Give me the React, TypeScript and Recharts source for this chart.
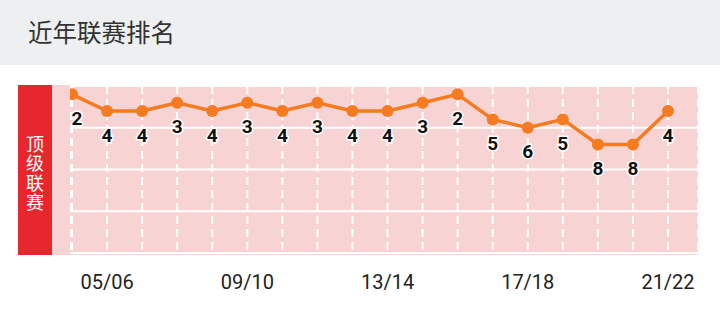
import React from 'react';
import { LineChart, Line, XAxis, YAxis, CartesianGrid, LabelList } from 'recharts';

const seasons = ['04/05','05/06','06/07','07/08','08/09','09/10','10/11','11/12','12/13','13/14','14/15','15/16','16/17','17/18','18/19','19/20','20/21','21/22'];
const ranks = [2,4,4,3,4,3,4,3,4,4,3,2,5,6,5,8,8,4];
const tickLabels = ['05/06','09/10','13/14','17/18','21/22'];
const rankTicks = [6,11,16,21];
const rankDomain = [1,21];
const title = '近年联赛排名';
const leagueLabel = '顶级联赛';

const data = seasons.map((s, i) => ({ season: s, rank: ranks[i] }));

const ORANGE = '#f47b20';
const PINK = '#f8d3d3';
const RED = '#e8262e';

const SeasonTick = (props: any) => {
  const { x, y, payload } = props;
  if (!tickLabels.includes(payload.value)) return null;
  return (
    <text x={x} y={y} dy={28} textAnchor="middle" fontFamily="Roboto, sans-serif" fontSize={20} fill="#222">
      {payload.value}
    </text>
  );
};

const RankLabel = (props: any) => {
  const { x, y, value, index } = props;
  return (
    <text
      x={index === 0 ? x + 5 : x}
      y={y + 24}
      textAnchor="middle"
      dominantBaseline="central"
      fontFamily="Roboto, Arial, sans-serif"
      fontWeight={700}
      fontSize={19}
      fill="#111"
      stroke="#fff"
      strokeWidth={3}
      paintOrder="stroke"
    >
      {value}
    </text>
  );
};

export default function App() {
  return (
    <div style={{ position: 'fixed', left: 0, top: 0, width: 720, height: 314, background: '#fff', overflow: 'hidden' }}>
      <div
        style={{
          position: 'absolute', left: 0, top: 0, width: 720, height: 65, background: '#eeeff1',
          fontFamily: '"Noto Sans CJK SC", sans-serif', fontSize: 24.5, color: '#333',
          lineHeight: '63px', paddingLeft: 28, boxSizing: 'border-box',
        }}
      >
        {title}
      </div>
      <div style={{ position: 'absolute', left: 52, top: 85, width: 646, height: 170, background: PINK }} />
      <div style={{ position: 'absolute', left: 0, top: 0 }}>
        <LineChart width={720} height={314} data={data} margin={{ top: 86, right: 22, bottom: 31, left: 70 }}>
          <CartesianGrid stroke="#fff" strokeWidth={2} vertical={false} />
          <CartesianGrid stroke="#fff" strokeWidth={2} horizontal={false} strokeDasharray="8 5" />
          <XAxis
            dataKey="season"
            interval={0}
            height={30}
            axisLine={false}
            tickLine={false}
            tick={<SeasonTick />}
            padding={{ left: 2, right: 30 }}
          />
          <YAxis hide reversed domain={rankDomain} ticks={rankTicks} type="number" />
          <Line
            dataKey="rank"
            stroke={ORANGE}
            strokeWidth={3.5}
            dot={{ r: 6, fill: ORANGE, stroke: ORANGE, strokeWidth: 0 }}
            isAnimationActive={false}
          >
            <LabelList dataKey="rank" content={<RankLabel />} />
          </Line>
        </LineChart>
      </div>
      <div style={{ position: 'absolute', left: 52, top: 85, width: 18, height: 170, background: PINK }} />
      <div
        style={{
          position: 'absolute', left: 18, top: 85, width: 34, height: 170, background: RED,
          display: 'flex', alignItems: 'center', justifyContent: 'center',
          paddingTop: 8, boxSizing: 'border-box',
        }}
      >
        <span
          style={{
            writingMode: 'vertical-rl', fontFamily: '"Noto Sans CJK SC", sans-serif', fontSize: 18,
            letterSpacing: 1.5, lineHeight: '20px', color: '#fff',
          }}
        >
          {leagueLabel}
        </span>
      </div>
    </div>
  );
}
